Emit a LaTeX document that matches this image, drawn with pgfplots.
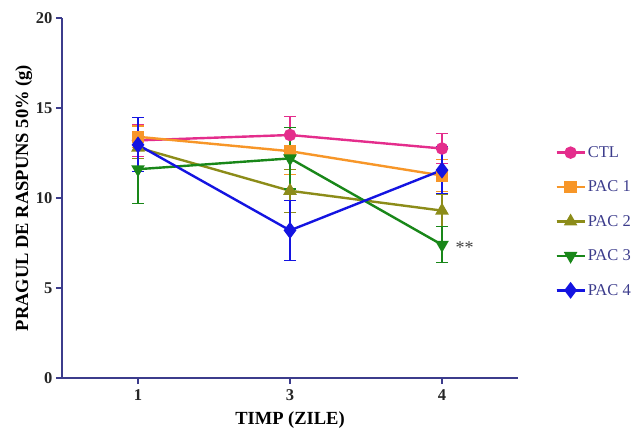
\documentclass[border=0pt]{standalone}
\usepackage{fontspec}
\setmainfont{Liberation Serif}
\usepackage{pgfplots}
\pgfplotsset{compat=1.18}

\definecolor{axiscol}{RGB}{60,60,140}
\definecolor{ctlcol}{RGB}{228,45,140}
\definecolor{pac1col}{RGB}{247,150,40}
\definecolor{pac2col}{RGB}{140,140,25}
\definecolor{pac3col}{RGB}{25,135,25}
\definecolor{pac4col}{RGB}{20,20,225}

\begin{document}
\begin{tikzpicture}
\useasboundingbox (-62pt,-51pt) rectangle (580pt,378pt);
\begin{axis}[
    scale only axis,
    width=456pt, height=360pt,
    xmin=-0.5, xmax=2.5,
    ymin=0, ymax=20,
    xtick={0,1,2}, xticklabels={1,3,4},
    ytick={0,5,10,15,20},
    axis x line=bottom, axis y line=left,
    axis line style={axiscol, line width=1.6pt, -},
    tick style={axiscol, line width=1.4pt},
    major tick length=6pt,
    tick align=outside,
    ticklabel style={font=\fontsize{16.5}{18}\selectfont\bfseries, text=black!85},
    xticklabel style={yshift=-2pt},
    /pgf/number format/assume math mode=true,
    xlabel={TIMP (ZILE)},
    ylabel={PRAGUL DE RASPUNS 50\% (g)},
    label style={font=\fontsize{18.5}{20}\selectfont\bfseries},
    xlabel style={yshift=-4pt},
    ylabel style={yshift=-3pt},
    legend style={at={(1.075,0.655)}, anchor=north west, draw=none, fill=none,
        font=\fontsize{16.5}{18}\selectfont, text=axiscol,
        row sep=18pt, cells={anchor=west}},
    legend image code/.code={
        \draw[#1, line width=2.2pt] (0pt,0pt) -- (28pt,0pt);
        \draw[#1, mark repeat=2, mark phase=2] plot coordinates {(0pt,0pt) (14pt,0pt) (28pt,0pt)};
    },
    every axis plot/.append style={line width=2.4pt, mark size=5pt,
        error bars/error bar style={line width=1.1pt},
        error bars/error mark options={rotate=90, mark size=6pt, line width=1.1pt}},
]
\addplot[color=ctlcol, mark=*, error bars/.cd, y dir=both, y explicit]
coordinates {(0,13.2) +- (0,0.9) (1,13.5) +- (0,1.05) (2,12.75) +- (0,0.85)};
\addplot[color=pac1col, mark=square*, error bars/.cd, y dir=both, y explicit]
coordinates {(0,13.4) +- (0,0.6) (1,12.6) +- (0,1.3) (2,11.25) +- (0,0.9)};
\addplot[color=pac2col, mark=triangle*, mark size=5.5pt, error bars/.cd, y dir=both, y explicit]
coordinates {(0,12.8) +- (0,0.6) (1,10.4) +- (0,1.2) (2,9.3) +- (0,0.9)};
\addplot[color=pac3col, mark=triangle*, mark options={rotate=180}, mark size=5.5pt, error bars/.cd, y dir=both, y explicit]
coordinates {(0,11.6) +- (0,1.9) (1,12.2) +- (0,1.7) (2,7.4) +- (0,1.0)};
\addplot[color=pac4col, mark=diamond*, mark size=6.5pt, error bars/.cd, y dir=both, y explicit]
coordinates {(0,12.95) +- (0,1.5) (1,8.2) +- (0,1.65) (2,11.55) +- (0,1.3)};
\legend{CTL, PAC 1, PAC 2, PAC 3, PAC 4}
\node[anchor=west, text=black!75, font=\fontsize{18}{20}\selectfont] at (axis cs:2,7.4) [xshift=10pt, yshift=-3pt] {**};
\end{axis}
\end{tikzpicture}
\end{document}
